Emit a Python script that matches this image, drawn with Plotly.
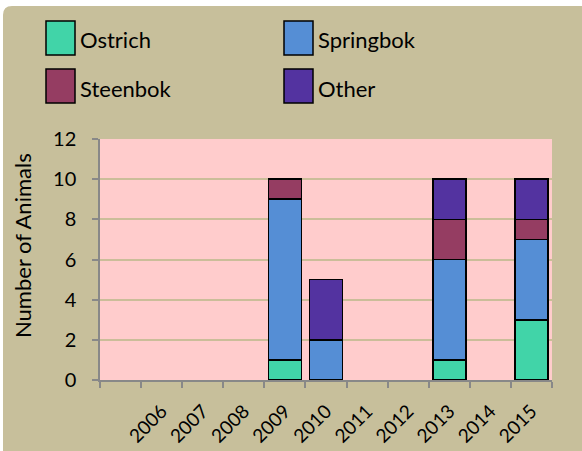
import plotly.graph_objects as go

# ---- data ----
years = ["2006", "2007", "2008", "2009", "2010", "2011", "2012", "2013", "2014", "2015"]
categories = [" "] + years  # first slot is an empty category on the axis

series_names = ["Ostrich", "Springbok", "Steenbok", "Other"]
ostrich   = [None, None, None, None, 1, None, None, None, 1, None, 3]
springbok = [None, None, None, None, 8, 2, None, None, 5, None, 4]
steenbok  = [None, None, None, None, 1, None, None, None, 2, None, 1]
other     = [None, None, None, None, None, 3, None, None, 2, None, 2]
series_values = [ostrich, springbok, steenbok, other]
series_colors = ["#41d4a8", "#558ed5", "#953d62", "#5333a0"]

y_ticks = [0, 2, 4, 6, 8, 10, 12]

FONT = "Lato"
W, H = 582, 451
L, R, T, B = 100, 30, 139, 71
PW, PH = W - L - R, H - T - B


def px(x):
    return (x - L) / PW


def py(y):
    return (H - B - y) / PH


fig = go.Figure()
for name, vals, col in zip(series_names, series_values, series_colors):
    fig.add_trace(go.Bar(
        x=categories, y=vals, name=name, showlegend=False, hoverinfo="skip",
        marker=dict(color=col, line=dict(color="black", width=1.6)),
    ))

shapes = []
# tan chart background with rounded top-left corner
r = 9
x0, y0, x1, y1 = 3, 6, W + 10, H + 10
path = (f"M {px(x0)},{py(y1)} L {px(x0)},{py(y0 + r)} "
        f"Q {px(x0)},{py(y0)} {px(x0 + r)},{py(y0)} "
        f"L {px(x1)},{py(y0)} L {px(x1)},{py(y1)} Z")
shapes.append(dict(type="path", xref="paper", yref="paper", path=path,
                   fillcolor="#c7bf9b", line=dict(width=0), layer="below"))
# pink plot area
shapes.append(dict(type="rect", xref="paper", yref="paper", x0=0, x1=1, y0=0, y1=1,
                   fillcolor="#ffcccc", line=dict(width=0), layer="below"))

annotations = []
# manual legend (large square swatches)
legend_pos = [(46, 21), (284, 21), (46, 69), (284, 69)]
order = [0, 1, 2, 3]
for (lx, ly), i in zip(legend_pos, order):
    shapes.append(dict(type="rect", xref="paper", yref="paper",
                       x0=px(lx), x1=px(lx + 29), y0=py(ly + 34), y1=py(ly),
                       fillcolor=series_colors[i], line=dict(color="black", width=1.5)))
    annotations.append(dict(xref="paper", yref="paper", x=px(lx + 32), y=py(ly + 19),
                            text=series_names[i], showarrow=False, xanchor="left",
                            yanchor="middle", font=dict(family=FONT, size=22, color="black")))

annotations.append(dict(xref="paper", yref="paper", x=px(22), y=py(246),
                        text="Number of Animals", showarrow=False, textangle=-90,
                        xanchor="center", yanchor="middle",
                        font=dict(family=FONT, size=22, color="black")))

fig.update_layout(
    width=W, height=H,
    margin=dict(l=L, r=R, t=T, b=B, autoexpand=False),
    barmode="stack", bargap=0.2,
    paper_bgcolor="white", plot_bgcolor="rgba(0,0,0,0)",
    shapes=shapes, annotations=annotations,
    showlegend=False, hovermode=False,
    font=dict(family=FONT, color="black"),
)
fig.update_xaxes(
    type="category", categoryorder="array", categoryarray=categories,
    tickson="boundaries", ticks="outside", ticklen=6, tickcolor="#888888", tickwidth=1.5,
    showline=True, linecolor="#888888", linewidth=1.5, automargin=False,
    showgrid=False, tickangle=-45, ticklabelstandoff=11,
    tickfont=dict(family=FONT, size=19, color="black"),
)
fig.update_yaxes(
    range=[0, 12], tickvals=y_ticks, automargin=False,
    ticks="outside", ticklen=6, tickcolor="#888888", tickwidth=1.5,
    showline=True, linecolor="#888888", linewidth=1.5,
    showgrid=True, gridcolor="#cbbd99", gridwidth=1.5, zeroline=False,
    ticklabelstandoff=12,
    tickfont=dict(family=FONT, size=20, color="black"),
)

fig.write_html("out.html", config={"displayModeBar": False},
               post_script="document.body.style.margin='0';document.body.style.padding='0';")
